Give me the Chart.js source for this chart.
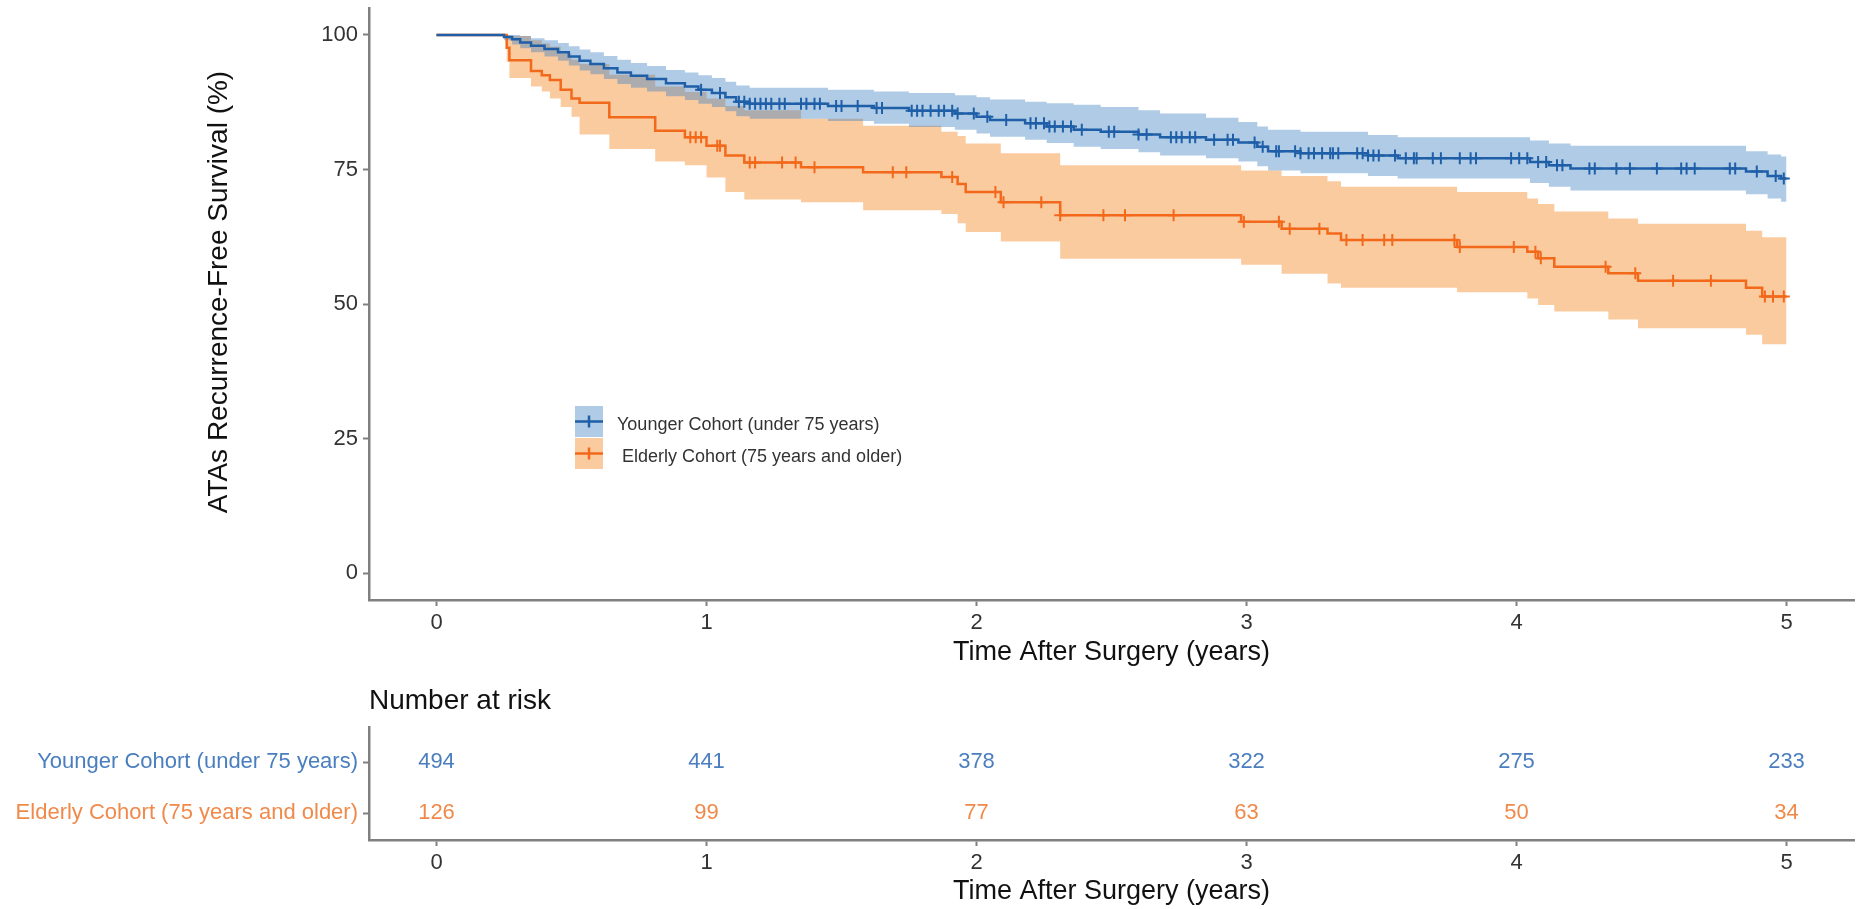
<!DOCTYPE html>
<html>
<head>
<meta charset="utf-8">
<script src="https://cdn.jsdelivr.net/npm/chart.js@4.4.1/dist/chart.umd.min.js"></script>
<style>
  body { margin: 0; background: #fff; }
  #km { position: absolute; left: 0; top: 0; }
  #risk { position: absolute; left: 0; top: 670px; }
</style>
</head>
<body>
<canvas id="km" width="1867" height="670"></canvas>
<canvas id="risk" width="1867" height="239"></canvas>
<script>
// labels / ticks
const groupNames = ['Younger Cohort (under 75 years)', 'Elderly Cohort (75 years and older)'];
const xTicks = [0, 1, 2, 3, 4, 5];
const yTicks = [0, 25, 50, 75, 100];

// younger cohort: KM steps (years, %) with 95% CI
const youngTime  = [0, 0.25, 0.28, 0.31, 0.35, 0.40, 0.45, 0.49, 0.53, 0.57, 0.62, 0.67, 0.72, 0.78, 0.85, 0.92, 0.97, 1.02, 1.07, 1.11, 1.16, 1.45, 1.62, 1.75, 1.92, 2.00, 2.05, 2.18, 2.26, 2.36, 2.46, 2.60, 2.68, 2.85, 2.97, 3.04, 3.08, 3.20, 3.45, 3.56, 4.05, 4.12, 4.20, 4.85, 4.93, 4.98, 5.00];
const youngSurv  = [100, 99.6, 99.2, 98.6, 98.0, 97.4, 96.8, 96.0, 95.2, 94.6, 93.8, 93.0, 92.4, 91.8, 91.0, 90.4, 89.8, 89.2, 88.4, 87.6, 87.2, 86.8, 86.4, 85.9, 85.4, 84.8, 84.2, 83.6, 83.0, 82.4, 82.0, 81.5, 81.0, 80.5, 80.0, 79.2, 78.4, 78.0, 77.6, 77.1, 76.4, 75.8, 75.2, 74.6, 73.8, 73.3, 73.3];
const youngUpper = [100, 100, 100, 99.8, 99.4, 99.0, 98.5, 97.9, 97.3, 96.8, 96.1, 95.4, 94.8, 94.2, 93.5, 93.0, 92.5, 92.0, 91.3, 90.6, 90.2, 89.8, 89.5, 89.2, 88.8, 88.4, 88.0, 87.6, 87.3, 87.0, 86.6, 86.0, 85.4, 84.6, 83.8, 83.0, 82.4, 82.0, 81.4, 81.0, 80.4, 79.8, 79.4, 78.4, 77.8, 77.4, 77.4];
const youngLower = [100, 99.0, 98.2, 97.5, 96.8, 96.0, 95.2, 94.3, 93.4, 92.7, 91.8, 90.9, 90.2, 89.5, 88.6, 87.9, 87.2, 86.6, 85.8, 84.9, 84.4, 84.0, 83.5, 82.9, 82.4, 81.7, 81.1, 80.5, 79.9, 79.2, 78.8, 78.2, 77.6, 77.1, 76.5, 75.6, 74.8, 74.3, 73.8, 73.3, 72.5, 71.8, 71.1, 70.4, 69.6, 69.0, 69.0];
const youngCensor = [0.98, 1.05, 1.12, 1.14, 1.16, 1.18, 1.20, 1.22, 1.24, 1.27, 1.29, 1.35, 1.37, 1.40, 1.42, 1.48, 1.50, 1.56, 1.63, 1.65, 1.76, 1.78, 1.80, 1.83, 1.86, 1.88, 1.91, 1.93, 1.99, 2.04, 2.11, 2.20, 2.22, 2.25, 2.27, 2.29, 2.32, 2.35, 2.39, 2.49, 2.51, 2.60, 2.63, 2.72, 2.74, 2.76, 2.79, 2.81, 2.88, 2.93, 2.95, 3.03, 3.06, 3.11, 3.12, 3.18, 3.20, 3.23, 3.25, 3.28, 3.31, 3.32, 3.34, 3.41, 3.43, 3.45, 3.47, 3.49, 3.55, 3.59, 3.62, 3.63, 3.69, 3.72, 3.79, 3.83, 3.85, 3.98, 4.01, 4.04, 4.08, 4.11, 4.15, 4.17, 4.27, 4.29, 4.37, 4.42, 4.52, 4.61, 4.63, 4.66, 4.79, 4.81, 4.89, 4.96, 4.99];

// elderly cohort
const oldTime  = [0, 0.26, 0.27, 0.35, 0.39, 0.42, 0.46, 0.50, 0.53, 0.64, 0.81, 0.92, 1.00, 1.07, 1.14, 1.35, 1.58, 1.87, 1.93, 1.96, 2.09, 2.31, 2.98, 3.13, 3.30, 3.35, 3.78, 4.04, 4.08, 4.14, 4.34, 4.45, 4.85, 4.91, 5.00];
const oldSurv  = [100, 97.6, 95.3, 93.3, 92.5, 91.6, 89.8, 88.2, 87.4, 84.7, 82.2, 81.0, 79.4, 77.6, 76.3, 75.4, 74.5, 73.6, 72.3, 70.8, 68.9, 66.5, 65.3, 64.0, 63.1, 61.9, 60.6, 59.7, 58.5, 56.9, 55.7, 54.3, 53.0, 51.4, 51.4];
const oldUpper = [100, 100, 99.8, 99.0, 98.4, 97.8, 96.6, 95.4, 94.6, 92.6, 90.4, 89.4, 88.2, 86.8, 86.0, 84.4, 83.1, 82.0, 81.2, 79.8, 78.0, 75.8, 74.8, 73.8, 72.8, 71.8, 70.8, 69.6, 68.6, 67.2, 65.9, 64.9, 63.6, 62.4, 62.4];
const oldLower = [100, 95.0, 92.0, 90.4, 89.5, 88.2, 86.6, 84.8, 81.5, 78.8, 76.5, 75.8, 73.5, 70.8, 69.4, 68.9, 67.4, 66.7, 65.0, 63.4, 61.6, 58.4, 57.3, 55.6, 53.8, 53.0, 52.2, 51.0, 49.8, 48.6, 47.1, 45.5, 44.3, 42.5, 42.5];
const oldCensor = [0.94, 0.96, 0.98, 1.04, 1.05, 1.16, 1.18, 1.28, 1.33, 1.40, 1.69, 1.74, 1.91, 2.07, 2.10, 2.24, 2.31, 2.47, 2.55, 2.73, 2.99, 3.12, 3.16, 3.27, 3.37, 3.43, 3.51, 3.54, 3.77, 3.79, 3.99, 4.07, 4.09, 4.33, 4.44, 4.58, 4.72, 4.92, 4.95, 4.99];

// number at risk
const riskTimes = [0, 1, 2, 3, 4, 5];
const youngRisk = [494, 441, 378, 322, 275, 233];
const oldRisk = [126, 99, 77, 63, 50, 34];

const FONT = "'Liberation Sans', Arial, sans-serif";
const axisGrey = '#808080';
const blueLine = '#1f5fa8', blueBand = 'rgba(55,125,192,0.4)', blueText = '#4a7ebf';
const orangeLine = '#f2691b', orangeBand = 'rgba(247,140,44,0.45)', orangeText = '#f08a4b';

const pts = (xs, ys) => xs.map((x, i) => ({ x, y: ys[i] }));
// value of the step curve at time t (used to sit the censor marks on the curve)
function stepAt(times, vals, t) {
  let v = vals[0];
  for (let i = 0; i < times.length; i++) if (times[i] <= t) v = vals[i];
  return v;
}
const censorPts = (c, times, vals) => c.map(t => ({ x: t, y: stepAt(times, vals, t) }));

function band(data, color, fill, order) {
  return { data, stepped: 'before', borderWidth: 0, borderColor: 'transparent', pointRadius: 0, backgroundColor: color, fill, order };
}
// keep the plot panel exactly where the axes say, no label overhang padding
function noPad(s) { s.paddingTop = 0; s.paddingBottom = 0; s.paddingLeft = 0; s.paddingRight = 0; }
function xAxis(h) {
  return {
    type: 'linear', min: -0.25, max: 5.25,
    afterBuildTicks: s => { s.ticks = xTicks.map(v => ({ value: v })); },
    afterFit: s => { s.height = h; noPad(s); },
    grid: { drawOnChartArea: false, tickLength: 6, tickColor: axisGrey, tickWidth: 2 },
    border: { color: axisGrey, width: 2.5 },
    ticks: { font: { family: FONT, size: 22 }, color: '#333', padding: 4, maxRotation: 0 },
    title: { display: true, text: 'Time After Surgery (years)', font: { family: FONT, size: 27 }, color: '#111', padding: { top: 0, bottom: 1 } }
  };
}

const kmExtras = {
  id: 'kmExtras',
  afterDraw(chart) {
    const { ctx, chartArea } = chart;
    // y title (sits a little above the panel centre, as in the figure)
    ctx.save();
    ctx.translate(219, (chartArea.top + chartArea.bottom) / 2 - 12);
    ctx.rotate(-Math.PI / 2);
    ctx.fillStyle = '#111';
    ctx.font = '28px ' + FONT;
    ctx.textAlign = 'center';
    ctx.textBaseline = 'middle';
    ctx.fillText('ATAs Recurrence-Free Survival (%)', 0, 0);
    ctx.restore();

    // legend
    const x0 = chartArea.left + 206, y0 = chartArea.top + 398, w = 28, h = 31;
    [[blueBand, blueLine, groupNames[0]], [orangeBand, orangeLine, ' ' + groupNames[1]]].forEach(([bg, line, text], i) => {
      const top = y0 + i * 32, cy = top + h / 2;
      ctx.save();
      ctx.fillStyle = bg;
      ctx.fillRect(x0, top, w, h);
      ctx.strokeStyle = line;
      ctx.lineWidth = 2.5;
      ctx.beginPath();
      ctx.moveTo(x0, cy); ctx.lineTo(x0 + w, cy);
      ctx.moveTo(x0 + w / 2, cy - 6); ctx.lineTo(x0 + w / 2, cy + 6);
      ctx.stroke();
      ctx.fillStyle = '#333';
      ctx.font = '18px ' + FONT;
      ctx.textBaseline = 'middle';
      ctx.fillText(text, x0 + w + 14, cy + 4);
      ctx.restore();
    });
  }
};

new Chart(document.getElementById('km'), {
  type: 'line',
  data: {
    datasets: [
      band(pts(oldTime, oldUpper), orangeBand, '+1', 4),
      band(pts(oldTime, oldLower), 'transparent', false, 4),
      band(pts(youngTime, youngUpper), blueBand, '+1', 3),
      band(pts(youngTime, youngLower), 'transparent', false, 3),
      { data: pts(oldTime, oldSurv), stepped: 'before', borderColor: orangeLine, borderWidth: 2.5, pointRadius: 0, fill: false, order: 2 },
      { data: pts(youngTime, youngSurv), stepped: 'before', borderColor: blueLine, borderWidth: 2.5, pointRadius: 0, fill: false, order: 1 },
      { data: censorPts(oldCensor, oldTime, oldSurv), showLine: false, pointStyle: 'cross', pointRadius: 6, pointBorderWidth: 2, pointBorderColor: orangeLine, order: 0 },
      { data: censorPts(youngCensor, youngTime, youngSurv), showLine: false, pointStyle: 'cross', pointRadius: 6, pointBorderWidth: 2, pointBorderColor: blueLine, order: 0 }
    ]
  },
  options: {
    responsive: false, animation: false, devicePixelRatio: 1,
    layout: { padding: { top: 5, right: 13, left: 0, bottom: 0 } },
    plugins: { legend: { display: false }, tooltip: { enabled: false } },
    scales: {
      x: xAxis(70),
      y: {
        type: 'linear', min: -5, max: 105,
        afterBuildTicks: s => { s.ticks = yTicks.map(v => ({ value: v })); },
        afterFit: s => { s.width = 369; noPad(s); },
        grid: { drawOnChartArea: false, tickLength: 6, tickColor: axisGrey, tickWidth: 2 },
        border: { color: axisGrey, width: 2.5 },
        ticks: { font: { family: FONT, size: 22 }, color: '#333', padding: 5 }
      }
    }
  },
  plugins: [kmExtras]
});

// risk table
const riskText = {
  id: 'riskText',
  afterDatasetsDraw(chart) {
    const { ctx, chartArea } = chart;
    ctx.save();
    ctx.font = '22px ' + FONT;
    ctx.textAlign = 'center';
    ctx.textBaseline = 'middle';
    chart.data.datasets.forEach((ds, i) => {
      chart.getDatasetMeta(i).data.forEach((el, j) => {
        ctx.fillStyle = ds.textColor;
        ctx.fillText(String(ds.counts[j]), el.x, el.y);
      });
    });
    ctx.fillStyle = '#111';
    ctx.font = '28px ' + FONT;
    ctx.textAlign = 'left';
    ctx.fillText('Number at risk', chartArea.left, chartArea.top - 26);
    ctx.restore();
  }
};

new Chart(document.getElementById('risk'), {
  type: 'scatter',
  data: {
    datasets: [
      { data: riskTimes.map(t => ({ x: t, y: 2 })), counts: youngRisk, textColor: blueText, pointRadius: 0 },
      { data: riskTimes.map(t => ({ x: t, y: 1 })), counts: oldRisk, textColor: orangeText, pointRadius: 0 }
    ]
  },
  options: {
    responsive: false, animation: false, devicePixelRatio: 1,
    layout: { padding: { top: 57, right: 13, left: 0, bottom: 0 } },
    plugins: { legend: { display: false }, tooltip: { enabled: false } },
    scales: {
      x: xAxis(69),
      y: {
        type: 'linear', min: 0.47, max: 2.69,
        afterBuildTicks: s => { s.ticks = [1, 2].map(v => ({ value: v })); },
        afterFit: s => { s.width = 369; noPad(s); },
        grid: { drawOnChartArea: false, tickLength: 6, tickColor: axisGrey, tickWidth: 2 },
        border: { color: axisGrey, width: 2.5 },
        ticks: {
          font: { family: FONT, size: 22 }, padding: 5,
          callback: v => (v === 2 ? groupNames[0] : groupNames[1]),
          color: c => (c.tick && c.tick.value === 2 ? blueText : orangeText)
        }
      }
    }
  },
  plugins: [riskText]
});
</script>
</body>
</html>
